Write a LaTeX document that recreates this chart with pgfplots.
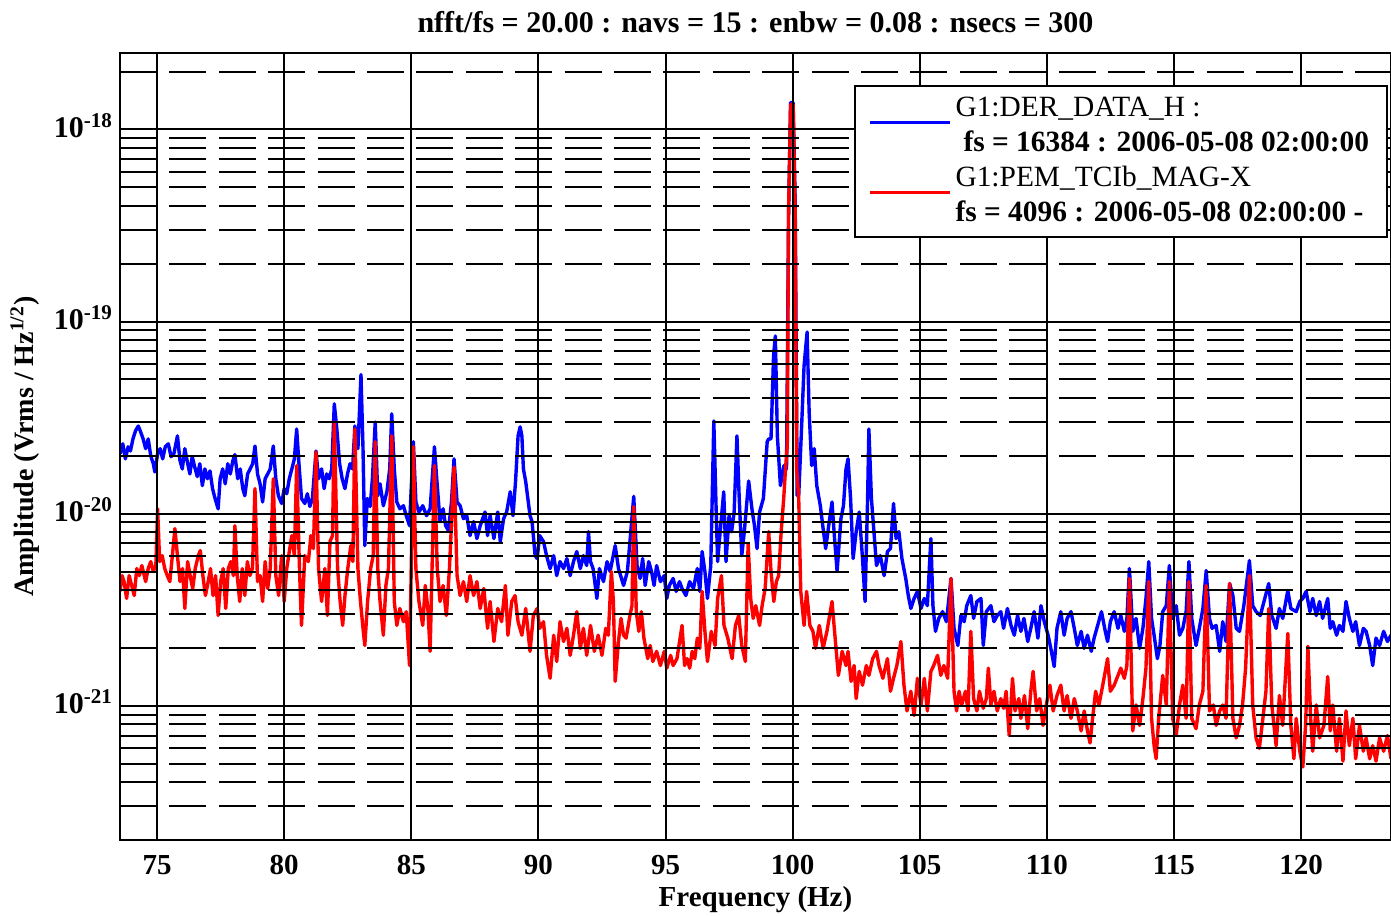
\documentclass[border=0pt]{standalone}
\usepackage{fontspec}
\setmainfont{Liberation Serif}
\usepackage{pgfplots}
\pgfplotsset{compat=1.18}

\begin{document}
\begin{tikzpicture}
\useasboundingbox (-60pt,-37.5pt) rectangle (635.5pt,420pt);
\begin{semilogyaxis}[
  at={(0,0)}, anchor=south west,
  width=635.5pt, height=393.5pt, scale only axis,
  xmin=73.54, xmax=123.54,
  ymin=2e-22, ymax=2.5e-18,
  axis on top,
  xtick={75,80,85,90,95,100,105,110,115,120},
  xticklabels={75,80,85,90,95,100,105,110,115,120},
  ytick={1e-21,1e-20,1e-19,1e-18},
  yticklabels={10\textsuperscript{-21},10\textsuperscript{-20},10\textsuperscript{-19},10\textsuperscript{-18}},
  minor ytick={2e-22,3e-22,4e-22,5e-22,6e-22,7e-22,8e-22,9e-22,
               2e-21,3e-21,4e-21,5e-21,6e-21,7e-21,8e-21,9e-21,
               2e-20,3e-20,4e-20,5e-20,6e-20,7e-20,8e-20,9e-20,
               2e-19,3e-19,4e-19,5e-19,6e-19,7e-19,8e-19,9e-19,2e-18},
  major tick length=0pt, minor tick length=0pt,
  xmajorgrids, ymajorgrids, yminorgrids,
  major grid style={black, line width=1pt},
  minor grid style={black, line width=1pt, dash pattern=on 18.5pt off 6.2pt},
  axis line style={black, line width=1.2pt},
  xticklabel style={font=\bfseries\fontsize{14.5}{14.5}\selectfont, yshift=-4pt},
  yticklabel style={font=\bfseries\fontsize{15}{15}\selectfont, anchor=base east, yshift=-4pt},
  title={nfft/fs = 20.00 : navs = 15 : enbw = 0.08 : nsecs = 300},
  title style={font=\bfseries\fontsize{15}{15}\selectfont, at={(axis description cs:0.5,1.0394)}, anchor=center, yshift=-6pt},
  xlabel={Frequency (Hz)},
  xlabel style={font=\bfseries\fontsize{14.5}{14.5}\selectfont, at={(axis description cs:0.5,-0.0762)}, anchor=center},
  ylabel={Amplitude (Vrms / Hz\textsuperscript{1/2})},
  ylabel style={font=\bfseries\fontsize{14}{14}\selectfont, at={(axis description cs:-0.0747,0.5)}, anchor=center},
  legend cell align=left,
  legend image code/.code={\draw[#1, line width=1.5pt] (0pt,-6.5pt) -- (40pt,-6.5pt);},
  legend style={at={(1,1)}, anchor=north east, xshift=-1.5pt, yshift=-16pt,
    draw=black, line width=1pt, fill=white, inner xsep=7pt, inner ysep=2.75pt,
    row sep=0pt, font=\fontsize{14.7}{17}\selectfont,
    nodes={text height=10.5pt, text depth=3pt, inner ysep=2pt},
    /tikz/every even column/.append style={column sep=4pt}},
]

% G1:DER_DATA_H amplitude spectral density
\addplot[blue, line width=1.7pt, line join=round] coordinates {
(73.54,2.05e-20) (73.65,2.31e-20) (73.75,1.93e-20) (73.86,2.23e-20) (73.95,2.12e-20) (74.05,2.45e-20) (74.15,2.70e-20) (74.26,2.86e-20) (74.35,2.67e-20) (74.45,2.45e-20)
(74.55,2.18e-20) (74.65,2.45e-20) (74.75,2.00e-20) (74.85,1.82e-20) (74.91,1.65e-20) (75.02,2.05e-20) (75.12,2.18e-20) (75.22,1.93e-20) (75.32,2.23e-20) (75.44,2.31e-20)
(75.55,1.98e-20) (75.66,2.05e-20) (75.80,2.54e-20) (75.90,1.89e-20) (75.99,1.71e-20) (76.09,2.18e-20) (76.19,1.86e-20) (76.29,1.61e-20) (76.38,1.98e-20) (76.48,1.75e-20)
(76.58,1.56e-20) (76.68,1.82e-20) (76.78,1.40e-20) (76.88,1.71e-20) (76.98,1.52e-20) (77.08,1.67e-20) (77.18,1.35e-20) (77.28,1.20e-20) (77.40,1.06e-20) (77.48,1.52e-20)
(77.58,1.71e-20) (77.68,1.43e-20) (77.78,1.82e-20) (77.88,1.61e-20) (77.98,1.89e-20) (78.06,2.03e-20) (78.17,1.52e-20) (78.27,1.71e-20) (78.37,1.35e-20) (78.45,1.24e-20)
(78.56,1.61e-20) (78.66,1.71e-20) (78.76,1.82e-20) (78.85,2.25e-20) (78.95,1.61e-20) (79.05,1.43e-20) (79.15,1.15e-20) (79.25,1.52e-20) (79.35,1.61e-20) (79.45,1.71e-20)
(79.57,2.25e-20) (79.67,1.52e-20) (79.77,1.24e-20) (79.90,1.13e-20) (80.00,1.35e-20) (80.10,1.27e-20) (80.20,1.52e-20) (80.30,1.71e-20) (80.40,1.93e-20) (80.49,2.76e-20)
(80.58,1.82e-20) (80.68,1.20e-20) (80.81,1.13e-20) (80.91,1.27e-20) (81.01,1.09e-20) (81.11,1.20e-20) (81.25,2.12e-20) (81.35,1.52e-20) (81.47,1.71e-20) (81.57,1.35e-20)
(81.67,1.61e-20) (81.77,1.52e-20) (81.87,1.71e-20) (81.97,3.73e-20) (82.07,2.76e-20) (82.18,1.82e-20) (82.28,1.52e-20) (82.39,1.35e-20) (82.49,1.61e-20) (82.59,1.82e-20)
(82.69,1.71e-20) (82.78,2.86e-20) (82.90,2.18e-20) (83.02,5.30e-20) (83.10,2.18e-20) (83.17,6.82e-21) (83.27,1.20e-20) (83.38,1.09e-20) (83.47,1.52e-20) (83.58,3.00e-20)
(83.68,1.24e-20) (83.77,1.43e-20) (83.90,1.10e-20) (84.04,1.30e-20) (84.15,1.71e-20) (84.23,3.31e-20) (84.33,1.71e-20) (84.43,1.15e-20) (84.55,1.06e-20) (84.69,1.10e-20)
(84.80,9.76e-21) (84.93,8.66e-21) (85.08,2.37e-20) (85.18,1.15e-20) (85.30,1.02e-20) (85.45,1.10e-20) (85.60,9.76e-21) (85.74,1.06e-20) (85.91,2.23e-20) (86.00,1.52e-20)
(86.13,9.09e-21) (86.25,1.06e-20) (86.35,8.66e-21) (86.46,8.16e-21) (86.58,1.15e-20) (86.68,1.93e-20) (86.80,1.15e-20) (86.92,1.10e-20) (87.05,9.42e-21) (87.18,9.76e-21)
(87.31,7.69e-21) (87.45,9.09e-21) (87.58,7.42e-21) (87.71,8.66e-21) (87.90,1.02e-20) (88.00,7.69e-21) (88.10,9.76e-21) (88.25,7.42e-21) (88.40,1.02e-20) (88.50,7.16e-21)
(88.63,9.42e-21) (88.75,1.02e-20) (88.89,1.30e-20) (89.00,9.76e-21) (89.10,1.47e-20) (89.20,2.54e-20) (89.28,2.83e-20) (89.35,2.54e-20) (89.41,1.71e-20) (89.50,1.47e-20)
(89.67,9.76e-21) (89.75,9.09e-21) (89.87,6.05e-21) (89.95,5.84e-21) (90.05,7.69e-21) (90.20,7.16e-21) (90.32,6.05e-21) (90.46,5.18e-21) (90.60,6.05e-21) (90.72,4.76e-21)
(90.85,5.63e-21) (90.99,5.18e-21) (91.12,5.84e-21) (91.25,4.76e-21) (91.38,5.63e-21) (91.51,6.35e-21) (91.65,5.18e-21) (91.77,6.05e-21) (91.90,5.37e-21) (91.97,8.06e-21)
(92.05,5.63e-21) (92.15,5.18e-21) (92.30,3.62e-21) (92.40,5.18e-21) (92.56,4.43e-21) (92.70,5.63e-21) (92.82,5.00e-21) (93.02,6.82e-21) (93.15,5.18e-21) (93.35,4.23e-21)
(93.50,5.00e-21) (93.62,7.69e-21) (93.75,1.23e-20) (93.88,5.37e-21) (94.00,4.60e-21) (94.10,5.84e-21) (94.20,4.23e-21) (94.34,5.63e-21) (94.45,5.00e-21) (94.55,4.23e-21)
(94.65,5.37e-21) (94.80,4.43e-21) (94.95,4.76e-21) (95.05,3.62e-21) (95.15,4.23e-21) (95.30,4.60e-21) (95.42,3.94e-21) (95.55,4.43e-21) (95.65,4.08e-21) (95.80,3.75e-21)
(95.95,4.43e-21) (96.10,4.08e-21) (96.25,5.18e-21) (96.35,3.94e-21) (96.44,6.35e-21) (96.55,5.00e-21) (96.65,3.62e-21) (96.78,5.37e-21) (96.90,3.04e-20) (96.98,1.20e-20)
(97.05,5.63e-21) (97.15,8.06e-21) (97.29,1.30e-20) (97.38,5.63e-21) (97.50,9.76e-21) (97.60,8.06e-21) (97.70,1.02e-20) (97.81,2.54e-20) (97.90,1.20e-20) (98.00,6.05e-21)
(98.10,8.06e-21) (98.27,1.48e-20) (98.40,1.06e-20) (98.50,8.66e-21) (98.60,6.58e-21) (98.70,1.02e-20) (98.85,1.20e-20) (99.00,2.37e-20) (99.06,2.45e-20) (99.15,2.45e-20)
(99.25,6.62e-20) (99.32,8.41e-20) (99.40,2.54e-20) (99.52,1.40e-20) (99.66,1.78e-20) (99.76,1.71e-20) (99.84,3.62e-19) (99.92,1.38e-18) (100.02,1.38e-18) (100.10,4.33e-19)
(100.18,1.24e-20) (100.24,1.24e-20) (100.35,2.76e-20) (100.45,5.87e-20) (100.57,8.82e-20) (100.65,3.39e-20) (100.75,1.78e-20) (100.85,2.18e-20) (100.95,1.40e-20) (101.09,1.10e-20)
(101.20,8.36e-21) (101.30,6.58e-21) (101.42,8.66e-21) (101.55,1.15e-20) (101.65,7.42e-21) (101.75,5.00e-21) (101.90,9.42e-21) (102.00,1.10e-20) (102.10,1.71e-20) (102.18,1.93e-20)
(102.28,1.20e-20) (102.38,5.84e-21) (102.50,8.06e-21) (102.62,1.02e-20) (102.75,5.84e-21) (102.85,3.49e-21) (102.95,1.20e-20) (103.00,2.76e-20) (103.10,1.20e-20) (103.30,5.37e-21)
(103.45,6.05e-21) (103.60,4.76e-21) (103.73,6.35e-21) (103.85,6.58e-21) (103.97,1.13e-20) (104.07,7.42e-21) (104.18,8.06e-21) (104.30,5.84e-21) (104.45,4.60e-21) (104.55,3.75e-21)
(104.65,3.21e-21) (104.78,3.62e-21) (104.91,3.94e-21) (105.05,3.21e-21) (105.18,3.62e-21) (105.30,3.32e-21) (105.44,7.42e-21) (105.52,3.32e-21) (105.62,2.44e-21) (105.75,2.85e-21)
(105.90,3.09e-21) (106.05,2.74e-21) (106.23,4.60e-21) (106.35,2.53e-21) (106.50,2.06e-21) (106.62,2.95e-21) (106.75,2.74e-21) (106.85,3.32e-21) (107.01,3.75e-21) (107.12,2.85e-21)
(107.25,3.49e-21) (107.41,3.62e-21) (107.50,2.06e-21) (107.62,3.09e-21) (107.80,3.32e-21) (107.92,2.74e-21) (108.05,2.95e-21) (108.19,3.09e-21) (108.30,2.53e-21) (108.45,3.21e-21)
(108.59,2.62e-21) (108.72,2.33e-21) (108.85,2.95e-21) (108.98,2.44e-21) (109.10,2.85e-21) (109.25,2.16e-21) (109.37,2.53e-21) (109.50,3.09e-21) (109.65,2.25e-21) (109.77,3.32e-21)
(109.90,2.74e-21) (110.05,2.33e-21) (110.18,1.92e-21) (110.29,1.60e-21) (110.40,2.53e-21) (110.55,3.09e-21) (110.68,2.33e-21) (110.80,2.85e-21) (110.95,3.09e-21) (111.08,2.53e-21)
(111.20,2.06e-21) (111.35,2.44e-21) (111.47,1.99e-21) (111.60,2.33e-21) (111.75,1.92e-21) (111.86,2.25e-21) (112.00,2.62e-21) (112.15,3.09e-21) (112.30,2.44e-21) (112.39,2.16e-21)
(112.50,2.74e-21) (112.65,3.09e-21) (112.80,2.53e-21) (112.91,2.95e-21) (113.05,2.44e-21) (113.15,2.85e-21) (113.25,5.18e-21) (113.38,2.44e-21) (113.51,2.85e-21) (113.65,1.99e-21)
(113.78,2.53e-21) (113.90,3.62e-21) (114.01,5.63e-21) (114.12,2.85e-21) (114.22,2.33e-21) (114.35,1.76e-21) (114.45,2.06e-21) (114.56,3.09e-21) (114.70,3.32e-21) (114.82,5.37e-21)
(114.95,2.85e-21) (115.09,3.32e-21) (115.22,2.33e-21) (115.35,2.53e-21) (115.48,3.09e-21) (115.59,5.63e-21) (115.70,2.85e-21) (115.87,2.06e-21) (116.00,2.53e-21) (116.14,3.21e-21)
(116.27,5.06e-21) (116.40,2.85e-21) (116.50,2.53e-21) (116.66,2.62e-21) (116.80,1.92e-21) (116.92,2.74e-21) (117.05,2.16e-21) (117.19,4.33e-21) (117.32,3.75e-21) (117.45,2.53e-21)
(117.58,2.44e-21) (117.75,3.32e-21) (117.97,5.70e-21) (118.10,3.32e-21) (118.23,3.09e-21) (118.40,2.95e-21) (118.50,3.32e-21) (118.73,4.33e-21) (118.85,2.95e-21) (119.02,2.53e-21)
(119.15,3.21e-21) (119.28,2.85e-21) (119.48,3.98e-21) (119.60,3.21e-21) (119.81,3.09e-21) (119.95,3.49e-21) (120.07,3.62e-21) (120.20,3.94e-21) (120.35,3.09e-21) (120.46,3.62e-21)
(120.60,2.95e-21) (120.73,3.49e-21) (120.85,2.85e-21) (121.05,3.62e-21) (121.15,2.53e-21) (121.25,2.74e-21) (121.40,2.33e-21) (121.51,2.62e-21) (121.65,2.44e-21) (121.77,3.49e-21)
(121.90,2.85e-21) (122.04,2.44e-21) (122.15,2.74e-21) (122.30,2.06e-21) (122.45,2.53e-21) (122.56,2.44e-21) (122.70,2.06e-21) (122.82,1.62e-21) (122.95,2.25e-21) (123.09,2.06e-21)
(123.25,2.44e-21) (123.40,2.16e-21) (123.54,2.33e-21)
};
\addlegendentry{G1:DER\_DATA\_H :}
\addlegendimage{empty legend}
\addlegendentry{\bfseries\hspace{4pt}fs = 16384 : 2006-05-08 02:00:00}

% G1:PEM_TCIb_MAG-X amplitude spectral density
\addplot[red, line width=1.7pt, line join=round] coordinates {
(73.54,3.94e-21) (73.62,4.76e-21) (73.70,4.43e-21) (73.80,3.62e-21) (73.90,4.76e-21) (74.00,4.23e-21) (74.10,3.75e-21) (74.20,5.18e-21) (74.30,4.76e-21) (74.40,5.37e-21)
(74.55,4.43e-21) (74.65,5.18e-21) (74.75,5.63e-21) (74.85,5.00e-21) (74.95,5.37e-21) (75.02,1.06e-20) (75.10,5.63e-21) (75.20,6.05e-21) (75.30,5.18e-21) (75.40,4.76e-21)
(75.50,4.43e-21) (75.60,6.05e-21) (75.70,8.36e-21) (75.80,6.05e-21) (75.90,4.43e-21) (76.00,5.18e-21) (76.09,3.21e-21) (76.20,5.63e-21) (76.30,4.76e-21) (76.40,4.08e-21)
(76.50,5.18e-21) (76.62,6.05e-21) (76.70,6.43e-21) (76.80,4.76e-21) (76.90,3.75e-21) (77.01,4.43e-21) (77.10,5.18e-21) (77.20,3.75e-21) (77.30,4.76e-21) (77.40,2.95e-21)
(77.50,4.43e-21) (77.60,5.18e-21) (77.70,3.21e-21) (77.80,5.18e-21) (77.90,5.63e-21) (78.00,4.76e-21) (78.06,8.66e-21) (78.15,4.76e-21) (78.25,3.49e-21) (78.35,5.18e-21)
(78.45,3.75e-21) (78.55,5.63e-21) (78.65,4.76e-21) (78.75,5.18e-21) (78.85,1.35e-20) (78.95,4.43e-21) (79.05,4.76e-21) (79.15,3.49e-21) (79.25,5.63e-21) (79.35,4.08e-21)
(79.45,5.18e-21) (79.57,1.52e-20) (79.67,4.76e-21) (79.78,3.75e-21) (79.90,6.05e-21) (80.00,3.49e-21) (80.10,5.18e-21) (80.20,6.35e-21) (80.30,7.69e-21) (80.40,6.05e-21)
(80.49,1.78e-20) (80.60,5.18e-21) (80.68,2.62e-21) (80.81,6.05e-21) (80.95,5.63e-21) (81.05,7.69e-21) (81.15,6.58e-21) (81.25,2.10e-20) (81.35,5.18e-21) (81.47,3.49e-21)
(81.60,5.18e-21) (81.70,2.95e-21) (81.80,7.16e-21) (81.90,7.69e-21) (81.97,3.00e-20) (82.10,5.18e-21) (82.20,3.49e-21) (82.30,2.62e-21) (82.39,3.75e-21) (82.50,5.18e-21)
(82.62,6.82e-21) (82.70,5.63e-21) (82.78,2.76e-20) (82.90,5.18e-21) (83.00,3.49e-21) (83.10,2.53e-21) (83.17,2.06e-21) (83.28,3.49e-21) (83.40,5.18e-21) (83.50,6.05e-21)
(83.58,2.37e-20) (83.68,5.18e-21) (83.77,3.49e-21) (83.90,2.33e-21) (84.00,4.23e-21) (84.10,5.18e-21) (84.23,2.54e-20) (84.33,3.49e-21) (84.43,2.62e-21) (84.55,3.21e-21)
(84.69,2.74e-21) (84.80,3.09e-21) (84.93,1.62e-21) (85.08,2.23e-20) (85.18,5.18e-21) (85.30,3.49e-21) (85.45,2.62e-21) (85.55,4.23e-21) (85.65,3.21e-21) (85.74,1.92e-21)
(85.91,1.78e-20) (86.02,5.18e-21) (86.13,3.49e-21) (86.25,4.23e-21) (86.38,2.95e-21) (86.50,5.18e-21) (86.68,1.75e-20) (86.80,4.76e-21) (86.92,3.75e-21) (87.05,4.43e-21)
(87.18,3.49e-21) (87.31,4.76e-21) (87.45,3.75e-21) (87.58,4.43e-21) (87.71,3.21e-21) (87.85,4.08e-21) (88.00,2.53e-21) (88.10,3.49e-21) (88.25,2.16e-21) (88.40,3.21e-21)
(88.55,2.74e-21) (88.70,4.23e-21) (88.80,2.33e-21) (88.95,3.49e-21) (89.08,3.75e-21) (89.20,2.74e-21) (89.35,2.33e-21) (89.50,3.21e-21) (89.67,1.92e-21) (89.80,2.95e-21)
(89.95,3.21e-21) (90.05,2.53e-21) (90.20,2.74e-21) (90.32,1.83e-21) (90.46,1.39e-21) (90.60,2.33e-21) (90.72,1.70e-21) (90.85,2.74e-21) (90.99,2.16e-21) (91.12,2.53e-21)
(91.25,1.83e-21) (91.38,2.33e-21) (91.51,3.09e-21) (91.65,1.99e-21) (91.77,2.53e-21) (91.90,1.83e-21) (92.05,2.62e-21) (92.20,1.92e-21) (92.35,2.33e-21) (92.50,1.83e-21)
(92.65,2.53e-21) (92.75,2.33e-21) (92.87,5.00e-21) (92.95,3.49e-21) (93.02,1.34e-21) (93.15,2.16e-21) (93.25,2.85e-21) (93.35,2.33e-21) (93.45,2.25e-21) (93.60,2.95e-21)
(93.68,3.32e-21) (93.75,1.09e-20) (93.85,3.09e-21) (93.95,2.44e-21) (94.05,3.09e-21) (94.15,2.25e-21) (94.30,1.76e-21) (94.40,2.06e-21) (94.50,1.70e-21) (94.65,1.92e-21)
(94.80,1.62e-21) (94.95,1.92e-21) (95.05,1.57e-21) (95.20,1.83e-21) (95.30,1.62e-21) (95.45,1.76e-21) (95.65,2.62e-21) (95.75,1.62e-21) (95.85,1.76e-21) (95.95,1.57e-21)
(96.05,1.92e-21) (96.15,1.76e-21) (96.25,2.25e-21) (96.35,1.99e-21) (96.44,3.94e-21) (96.55,2.44e-21) (96.65,1.70e-21) (96.80,2.44e-21) (96.95,2.06e-21) (97.05,3.62e-21)
(97.20,4.76e-21) (97.30,2.62e-21) (97.45,2.25e-21) (97.62,1.76e-21) (97.75,2.62e-21) (97.88,2.95e-21) (98.00,2.06e-21) (98.14,1.70e-21) (98.25,7.00e-21) (98.35,3.62e-21)
(98.45,2.85e-21) (98.55,3.32e-21) (98.70,2.62e-21) (98.80,3.32e-21) (98.92,4.08e-21) (99.06,8.06e-21) (99.15,5.00e-21) (99.26,3.49e-21) (99.36,4.43e-21) (99.45,4.76e-21)
(99.55,8.06e-21) (99.65,1.20e-20) (99.72,1.71e-20) (99.79,2.25e-20) (99.84,3.62e-19) (99.92,1.35e-18) (100.02,1.35e-18) (100.10,3.62e-19) (100.16,1.71e-20) (100.24,1.20e-20)
(100.32,3.94e-21) (100.45,2.62e-21) (100.55,3.94e-21) (100.68,2.62e-21) (100.80,2.44e-21) (100.90,1.99e-21) (101.05,2.62e-21) (101.20,1.99e-21) (101.35,2.44e-21) (101.55,3.49e-21)
(101.65,2.44e-21) (101.80,1.44e-21) (101.95,1.92e-21) (102.10,1.62e-21) (102.18,1.92e-21) (102.30,1.34e-21) (102.42,1.62e-21) (102.50,1.09e-21) (102.62,1.51e-21) (102.75,1.28e-21)
(102.90,1.62e-21) (103.00,1.44e-21) (103.15,1.76e-21) (103.30,1.92e-21) (103.40,1.62e-21) (103.55,1.39e-21) (103.73,1.76e-21) (103.85,1.19e-21) (103.97,1.39e-21) (104.10,1.62e-21)
(104.26,2.16e-21) (104.38,1.28e-21) (104.50,9.40e-22) (104.65,1.19e-21) (104.78,8.90e-22) (104.91,1.39e-21) (105.05,1.01e-21) (105.18,1.39e-21) (105.30,9.40e-22) (105.44,1.51e-21)
(105.55,1.62e-21) (105.70,1.83e-21) (105.83,1.44e-21) (105.95,1.62e-21) (106.10,1.39e-21) (106.23,4.60e-21) (106.35,1.19e-21) (106.45,9.40e-22) (106.55,1.19e-21) (106.65,1.01e-21)
(106.80,1.19e-21) (106.90,9.40e-22) (107.01,2.44e-21) (107.12,1.09e-21) (107.25,9.40e-22) (107.35,1.19e-21) (107.50,9.70e-22) (107.62,1.09e-21) (107.70,1.57e-21) (107.80,1.01e-21)
(107.92,1.19e-21) (108.05,9.40e-22) (108.19,1.09e-21) (108.30,9.70e-22) (108.40,1.19e-21) (108.52,7.00e-22) (108.65,1.39e-21) (108.75,9.40e-22) (108.90,1.09e-21) (108.98,8.60e-22)
(109.12,1.13e-21) (109.25,7.60e-22) (109.37,1.19e-21) (109.46,1.51e-21) (109.60,9.40e-22) (109.72,1.09e-21) (109.85,7.90e-22) (109.98,1.01e-21) (110.12,1.28e-21) (110.25,9.40e-22)
(110.40,1.13e-21) (110.55,1.28e-21) (110.68,9.40e-22) (110.80,1.13e-21) (110.95,8.60e-22) (111.08,1.09e-21) (111.20,9.40e-22) (111.35,7.40e-22) (111.47,9.40e-22) (111.60,7.40e-22)
(111.70,6.40e-22) (111.80,8.60e-22) (111.92,1.19e-21) (112.05,1.01e-21) (112.20,1.28e-21) (112.39,1.76e-21) (112.50,1.19e-21) (112.65,1.28e-21) (112.80,1.44e-21) (112.91,1.57e-21)
(113.05,1.39e-21) (113.15,1.62e-21) (113.25,4.60e-21) (113.38,7.40e-22) (113.51,1.01e-21) (113.65,7.90e-22) (113.78,1.09e-21) (113.90,1.57e-21) (114.01,4.43e-21) (114.12,8.60e-22)
(114.22,6.20e-22) (114.30,5.30e-22) (114.40,8.60e-22) (114.56,1.44e-21) (114.70,1.01e-21) (114.82,4.43e-21) (114.95,8.60e-22) (115.09,7.00e-22) (115.22,1.01e-21) (115.35,1.28e-21)
(115.48,8.60e-22) (115.59,4.43e-21) (115.70,8.60e-22) (115.87,7.60e-22) (116.00,1.01e-21) (116.14,1.19e-21) (116.27,4.23e-21) (116.40,9.40e-22) (116.55,1.01e-21) (116.66,7.90e-22)
(116.80,9.40e-22) (116.92,1.01e-21) (117.05,8.60e-22) (117.19,4.33e-21) (117.32,8.60e-22) (117.45,6.80e-22) (117.58,7.90e-22) (117.70,1.01e-21) (117.82,1.57e-21) (117.97,4.76e-21)
(118.10,1.01e-21) (118.23,6.80e-22) (118.36,6.00e-22) (118.50,8.60e-22) (118.62,1.19e-21) (118.73,3.21e-21) (118.85,1.01e-21) (119.02,6.20e-22) (119.15,1.13e-21) (119.28,7.90e-22)
(119.48,2.38e-21) (119.60,7.90e-22) (119.72,5.30e-22) (119.81,8.60e-22) (119.95,5.80e-22) (120.07,4.80e-22) (120.18,7.90e-22) (120.27,2.04e-21) (120.38,8.60e-22) (120.46,5.80e-22)
(120.60,1.01e-21) (120.73,6.80e-22) (120.90,7.90e-22) (121.05,1.42e-21) (121.15,7.40e-22) (121.25,1.01e-21) (121.40,5.80e-22) (121.51,8.60e-22) (121.65,5.15e-22) (121.77,9.40e-22)
(121.90,6.20e-22) (122.04,8.60e-22) (122.15,5.30e-22) (122.30,7.90e-22) (122.45,5.80e-22) (122.56,6.80e-22) (122.70,5.30e-22) (122.82,6.20e-22) (122.95,5.15e-22) (123.09,6.80e-22)
(123.25,5.80e-22) (123.40,7.00e-22) (123.54,5.30e-22)
};
\addlegendentry{G1:PEM\_TCIb\_MAG-X}
\addlegendimage{empty legend}
\addlegendentry{\bfseries fs = 4096 : 2006-05-08 02:00:00 -}
\end{semilogyaxis}
\end{tikzpicture}
\end{document}
